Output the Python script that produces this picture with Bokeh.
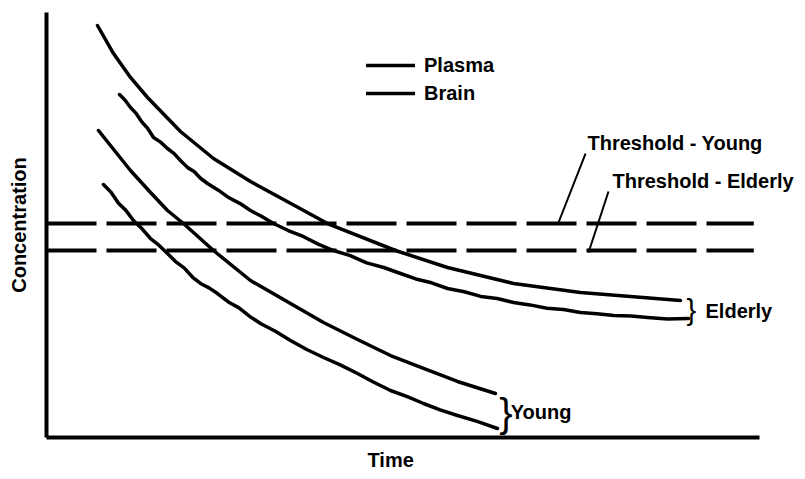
from bokeh.plotting import figure
from bokeh.models import Range1d, Label, Legend, LegendItem, FixedTicker, Title
from bokeh.embed import file_html
from bokeh.resources import INLINE

# ---- data (time 0-100, concentration 0-100) ----
plasma_elderly_t = [7.15, 9.40, 11.78, 14.17, 18.79, 23.42, 28.61, 33.24, 39.41, 48.95, 56.24, 65.50, 74.89, 88.92]
plasma_elderly_c = [96.94, 90.35, 84.71, 80.00, 72.00, 65.65, 60.24, 56.00, 50.35, 44.00, 40.00, 36.24, 34.12, 32.24]

brain_elderly_t = [10.24, 11.0, 11.78, 12.6, 13.4, 14.2, 15.01, 16.0, 16.97, 17.9, 18.79, 19.8, 20.7, 21.6,
                   22.58, 24.1, 25.6, 27.1, 28.61, 30.2, 31.84, 33.9, 36.0, 38.1, 40.25, 42.6, 44.9, 47.3,
                   49.65, 51.8, 54.0, 56.24, 58.6, 60.9, 63.2, 65.50, 67.8, 70.2, 72.5, 74.89, 77.2, 79.6,
                   82.0, 84.29, 87.1, 90.04]
brain_elderly_c = [80.71, 79.4, 77.65, 76.2, 74.2, 72.7, 70.59, 69.5, 68.00, 66.8, 65.18, 63.5, 62.6, 61.0,
                   59.76, 58.2, 56.4, 55.1, 53.41, 52.0, 50.35, 48.7, 47.3, 45.5, 44.00, 42.8, 41.1, 40.0,
                   38.59, 37.3, 36.4, 35.06, 34.3, 33.2, 32.7, 31.76, 31.2, 30.4, 30.1, 29.41, 29.1, 28.7,
                   28.6, 28.24, 27.9, 28.00]

plasma_young_t = [7.29, 11.78, 14.59, 16.97, 19.21, 23.42, 28.61, 34.22, 38.85, 43.62, 48.25, 52.88, 57.64, 62.97]
plasma_young_c = [72.24, 62.82, 57.65, 53.41, 50.35, 44.00, 36.94, 31.53, 27.06, 23.06, 19.29, 16.24, 13.18, 10.35]

brain_young_t = [7.99, 9.0, 10.1, 11.1, 12.20, 13.4, 14.59, 15.8, 16.97, 18.1, 19.3, 20.5, 21.60, 22.8, 23.98,
                 25.5, 27.0, 28.5, 30.01, 32.1, 34.22, 36.5, 38.85, 41.2, 43.62, 45.9, 48.25, 50.6, 52.88,
                 55.2, 57.64, 60.4, 63.25]
brain_young_c = [59.53, 57.8, 55.1, 53.5, 51.06, 49.1, 46.82, 45.2, 43.29, 41.4, 39.9, 37.7, 36.24, 35.2, 33.88,
                 31.9, 30.5, 28.5, 26.82, 25.0, 22.82, 20.7, 18.82, 17.1, 15.06, 13.0, 11.06, 9.6, 8.00,
                 6.5, 5.18, 3.8, 2.12]

threshold_span = [0, 99.2]
threshold_young = 50.35
threshold_elderly = 44.0

leader_young_t = [75.60, 71.81]
leader_young_c = [66.82, 50.59]
leader_elderly_t = [78.82, 76.02]
leader_elderly_c = [57.88, 43.53]

FONT = "Liberation Sans"

p = figure(frame_width=758, frame_height=425,
           min_border_left=46, min_border_right=0, min_border_top=12, min_border_bottom=41,
           x_range=Range1d(0, 106.31), y_range=Range1d(0, 100),
           output_backend="svg", toolbar_location=None)
p.xgrid.visible = False
p.ygrid.visible = False
p.outline_line_color = None
p.background_fill_color = "white"
p.border_fill_color = "white"
for ax in (p.xaxis[0], p.yaxis[0]):
    ax.ticker = FixedTicker(ticks=[])
    ax.major_tick_line_color = None
    ax.minor_tick_line_color = None
    ax.major_label_text_font_size = "0px"
    ax.axis_line_width = 4
    ax.axis_line_color = "black"
p.xaxis[0].bounds = (0, 100)
p.yaxis[0].axis_label = "Concentration"
p.yaxis[0].axis_label_text_font = FONT
p.yaxis[0].axis_label_text_font_style = "bold"
p.yaxis[0].axis_label_text_font_size = "20px"
p.yaxis[0].axis_label_text_color = "black"
p.yaxis[0].axis_label_standoff = 17

p.add_layout(Title(text="Time", align="left", offset=321, text_font=FONT, text_font_style="bold",
                   text_font_size="20px", text_color="black", standoff=18), "below")

LW = 3.5
r_pe = p.line(plasma_elderly_t, plasma_elderly_c, line_width=LW, line_color="black", line_join="round", line_cap="round")
r_be = p.line(brain_elderly_t, brain_elderly_c, line_width=LW, line_color="black", line_join="round", line_cap="round")
p.line(plasma_young_t, plasma_young_c, line_width=LW, line_color="black", line_join="round", line_cap="round")
p.line(brain_young_t, brain_young_c, line_width=LW, line_color="black", line_join="round", line_cap="round")

p.line(threshold_span, [threshold_young] * 2, line_width=4, line_color="black", line_dash="50 10")
p.line(threshold_span, [threshold_elderly] * 2, line_width=4, line_color="black", line_dash="50 10")

p.line(leader_young_t, leader_young_c, line_width=2, line_color="black")
p.line(leader_elderly_t, leader_elderly_c, line_width=2, line_color="black")

legend = Legend(items=[LegendItem(label="Plasma", renderers=[r_pe]),
                       LegendItem(label="Brain", renderers=[r_be])],
                location=(320, 330), orientation="vertical",
                padding=0, margin=0, spacing=0,
                glyph_width=49, glyph_height=28, label_height=28, label_standoff=9,
                label_text_font=FONT, label_text_font_style="bold", label_text_color="black",
                label_text_font_size="20px", label_text_baseline="middle",
                border_line_color=None, background_fill_alpha=0)
p.add_layout(legend)

def lab(x, y, text, size="20px", bold=True, align="left"):
    p.add_layout(Label(x=x, y=y, text=text, text_font=FONT,
                       text_font_style="bold" if bold else "normal",
                       text_font_size=size, text_align=align,
                       text_baseline="middle", text_color="black"))

lab(75.88, 69.18, "Threshold - Young")
lab(79.38, 60.47, "Threshold - Elderly")
lab(92.43, 29.65, "Elderly")
lab(65.1, 6.10, "Young")
lab(89.76, 29.9, "}", size="29px", bold=False)
lab(63.5, 5.65, "}", size="40px", bold=False)

open("out.html", "w").write(file_html(p, INLINE))
